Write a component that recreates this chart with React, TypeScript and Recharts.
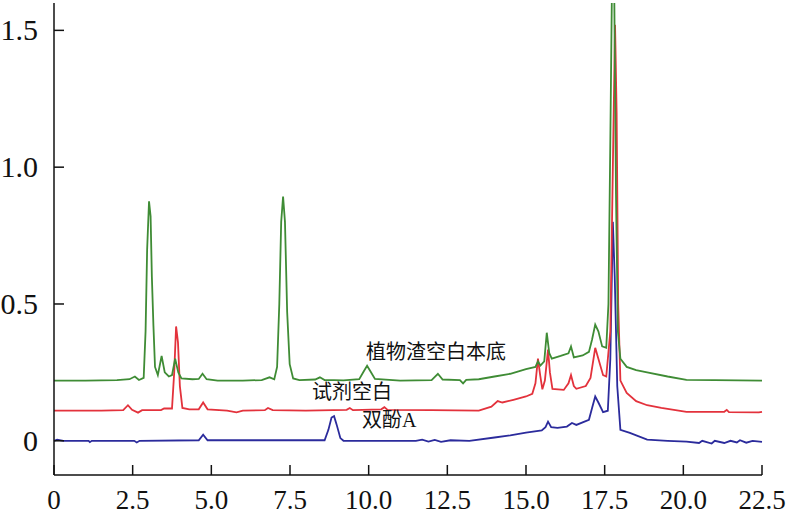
import { LineChart, Line, XAxis, YAxis, ReferenceDot } from 'recharts';

// retention time (min) vs response
const plantBlank: [number, number][] = [
  [0, 0.22], [1.0, 0.22], [2.0, 0.222], [2.4, 0.225], [2.57, 0.235], [2.7, 0.222],
  [2.85, 0.23], [2.91, 0.4], [2.96, 0.7], [3.02, 0.875], [3.07, 0.82], [3.11, 0.6],
  [3.16, 0.42], [3.21, 0.27], [3.3, 0.24], [3.42, 0.31], [3.52, 0.25], [3.65, 0.235],
  [3.75, 0.24], [3.85, 0.3], [3.95, 0.25], [4.05, 0.228], [4.4, 0.225], [4.6, 0.226],
  [4.72, 0.245], [4.85, 0.225], [5.2, 0.22], [6.0, 0.22], [6.6, 0.222], [6.85, 0.232],
  [7.0, 0.225], [7.09, 0.27], [7.16, 0.5], [7.22, 0.8], [7.28, 0.893], [7.34, 0.8],
  [7.41, 0.47], [7.49, 0.28], [7.6, 0.228], [7.8, 0.222], [8.3, 0.224], [8.45, 0.232],
  [8.6, 0.222], [8.9, 0.222], [9.2, 0.221], [9.7, 0.225], [9.85, 0.255], [9.95, 0.274],
  [10.05, 0.255], [10.2, 0.226], [11.0, 0.22], [12.0, 0.222], [12.2, 0.245], [12.35, 0.224],
  [12.9, 0.222], [13.0, 0.21], [13.1, 0.223], [13.5, 0.225], [14.0, 0.235], [14.5, 0.245],
  [15.0, 0.262], [15.3, 0.27], [15.38, 0.29], [15.46, 0.275], [15.58, 0.29], [15.66, 0.395],
  [15.74, 0.32], [15.82, 0.3], [16.1, 0.31], [16.35, 0.32], [16.43, 0.345], [16.52, 0.305],
  [16.8, 0.312], [17.0, 0.325], [17.1, 0.37], [17.2, 0.425], [17.3, 0.4], [17.42, 0.345],
  [17.55, 0.34], [17.62, 0.5], [17.68, 1.1], [17.74, 1.75], [17.8, 1.7], [17.86, 0.9],
  [17.92, 0.4], [18.0, 0.3], [18.2, 0.27], [18.5, 0.258], [18.85, 0.25], [19.5, 0.235],
  [20.1, 0.223], [21.0, 0.222], [22.5, 0.22],
];

const reagentBlank: [number, number][] = [
  [0, 0.11], [1.5, 0.11], [2.2, 0.112], [2.35, 0.13], [2.48, 0.113], [2.67, 0.103],
  [2.8, 0.112], [3.4, 0.112], [3.5, 0.118], [3.75, 0.118], [3.82, 0.25], [3.88, 0.418],
  [3.94, 0.36], [4.0, 0.2], [4.08, 0.12], [4.3, 0.115], [4.6, 0.115], [4.74, 0.14],
  [4.88, 0.115], [5.5, 0.11], [5.8, 0.104], [6.0, 0.11], [6.7, 0.112], [6.8, 0.12],
  [6.95, 0.112], [8.0, 0.11], [9.3, 0.113], [9.4, 0.12], [9.5, 0.112], [10.4, 0.115],
  [10.5, 0.123], [10.6, 0.113], [12.0, 0.112], [13.5, 0.11], [13.9, 0.125], [14.1, 0.145],
  [14.25, 0.14], [14.6, 0.15], [15.0, 0.162], [15.2, 0.172], [15.3, 0.21], [15.38, 0.3],
  [15.45, 0.24], [15.52, 0.188], [15.6, 0.22], [15.7, 0.333], [15.76, 0.25], [15.84, 0.19],
  [16.2, 0.186], [16.35, 0.21], [16.43, 0.24], [16.52, 0.2], [16.6, 0.19], [16.9, 0.2],
  [17.05, 0.23], [17.2, 0.34], [17.3, 0.3], [17.45, 0.24], [17.55, 0.235], [17.68, 0.4],
  [17.76, 1.0], [17.83, 1.52], [17.88, 1.2], [17.93, 0.5], [18.0, 0.22], [18.2, 0.175],
  [18.5, 0.145], [18.85, 0.13], [19.3, 0.12], [20.1, 0.106], [21.3, 0.106], [21.38, 0.113],
  [21.45, 0.105], [22.4, 0.104], [22.5, 0.106],
];

const bisphenolA: [number, number][] = [
  [0, 0.0], [0.1, 0.004], [0.3, 0.0], [1.1, 0.0], [1.14, -0.005], [1.2, 0.0],
  [2.55, 0.0], [2.63, -0.006], [2.72, 0.0], [4.6, 0.002], [4.74, 0.022], [4.88, 0.002],
  [8.6, 0.002], [8.72, 0.04], [8.82, 0.085], [8.9, 0.09], [8.98, 0.06], [9.1, 0.01],
  [9.2, 0.0], [11.5, 0.0], [11.7, 0.004], [11.9, -0.003], [12.1, 0.003], [12.3, -0.004],
  [12.6, 0.002], [13.2, 0.0], [14.0, 0.012], [14.5, 0.02], [15.0, 0.03], [15.5, 0.038],
  [15.62, 0.05], [15.7, 0.07], [15.8, 0.05], [16.0, 0.047], [16.3, 0.052], [16.46, 0.065],
  [16.6, 0.058], [17.0, 0.077], [17.1, 0.12], [17.2, 0.162], [17.3, 0.14], [17.45, 0.105],
  [17.6, 0.11], [17.68, 0.3], [17.76, 0.8], [17.82, 0.6], [17.9, 0.2], [18.0, 0.04],
  [18.3, 0.029], [18.85, 0.004], [19.5, 0.0], [20.1, -0.003], [20.5, -0.008], [20.6, 0.0],
  [20.9, -0.01], [21.0, 0.0], [21.3, -0.008], [21.5, 0.0], [21.7, -0.006], [21.8, 0.002],
  [22.0, -0.007], [22.2, 0.0], [22.5, -0.004],
];

const xTicks = [0, 2.5, 5, 7.5, 10, 12.5, 15, 17.5, 20, 22.5];
const xTickLabels = ['0', '2.5', '5.0', '7.5', '10.0', '12.5', '15.0', '17.5', '20.0', '22.5'];
const yTicks = [0, 0.5, 1.0, 1.5];
const yTickLabels = ['0', '0.5', '1.0', '1.5'];

const labelText = ['植物渣空白本底', '试剂空白', '双酚A'];
const labelX = [12.14, 9.47, 10.65];
const labelY = [0.325, 0.18, 0.077];

const toRows = (pts: [number, number][]) => pts.map(([t, v]) => ({ t, v }));

const serif = '"Liberation Serif", "Times New Roman", serif';
const X_GAP = 18;
const Y_GAP = 16;
const TICK_LEN = 10;

// ticks point inward, so draw the tick mark together with the label
const XTick = (props: any) => {
  const { x, y, payload } = props;
  const axisY = y - X_GAP;
  return (
    <g>
      <line x1={x} x2={x} y1={axisY} y2={axisY - TICK_LEN} stroke="#111" strokeWidth={1.5} />
      <text x={x} y={y} dy={16} textAnchor="middle" fill="#111" fontSize={27} fontFamily={serif}>
        {xTickLabels[xTicks.indexOf(payload.value)] ?? String(payload.value)}
      </text>
    </g>
  );
};

const YTick = (props: any) => {
  const { x, y, payload } = props;
  const axisX = x + Y_GAP;
  return (
    <g>
      <line x1={axisX} x2={axisX + TICK_LEN} y1={y} y2={y} stroke="#111" strokeWidth={1.5} />
      <text x={x} y={y} dy={10} textAnchor="end" fill="#111" fontSize={30} fontFamily={serif}>
        {yTickLabels[yTicks.indexOf(payload.value)] ?? String(payload.value)}
      </text>
    </g>
  );
};

export default function App() {
  return (
    <div style={{ position: 'absolute', left: 0, top: 0, background: '#fff' }}>
      <LineChart width={791} height={517} margin={{ top: 3, right: 29, bottom: 0, left: 0 }}>
        <XAxis
          type="number"
          dataKey="t"
          domain={[0, 22.5]}
          ticks={xTicks}
          interval={0}
          height={42}
          tickSize={0}
          tickMargin={X_GAP}
          axisLine={{ stroke: '#111', strokeWidth: 1.5 }}
          tickLine={false}
          tick={XTick}
        />
        <YAxis
          type="number"
          domain={[-0.125, 1.6]}
          ticks={yTicks}
          interval={0}
          allowDataOverflow
          width={54}
          tickSize={0}
          tickMargin={Y_GAP}
          axisLine={{ stroke: '#111', strokeWidth: 1.5 }}
          tickLine={false}
          tick={YTick}
        />
        <Line data={toRows(bisphenolA)} dataKey="v" stroke="#2b2b9c" strokeWidth={1.8} dot={false} isAnimationActive={false} />
        <Line data={toRows(reagentBlank)} dataKey="v" stroke="#e3323c" strokeWidth={1.8} dot={false} isAnimationActive={false} />
        <Line data={toRows(plantBlank)} dataKey="v" stroke="#3f8c35" strokeWidth={1.8} dot={false} isAnimationActive={false} />
        {labelText.map((text, i) => (
          <ReferenceDot
            key={text}
            x={labelX[i]}
            y={labelY[i]}
            r={0}
            fill="none"
            stroke="none"
            label={{ value: text, position: 'center', fontSize: 20, fill: '#111', fontFamily: serif + ', "Noto Sans CJK SC"' }}
          />
        ))}
      </LineChart>
    </div>
  );
}
